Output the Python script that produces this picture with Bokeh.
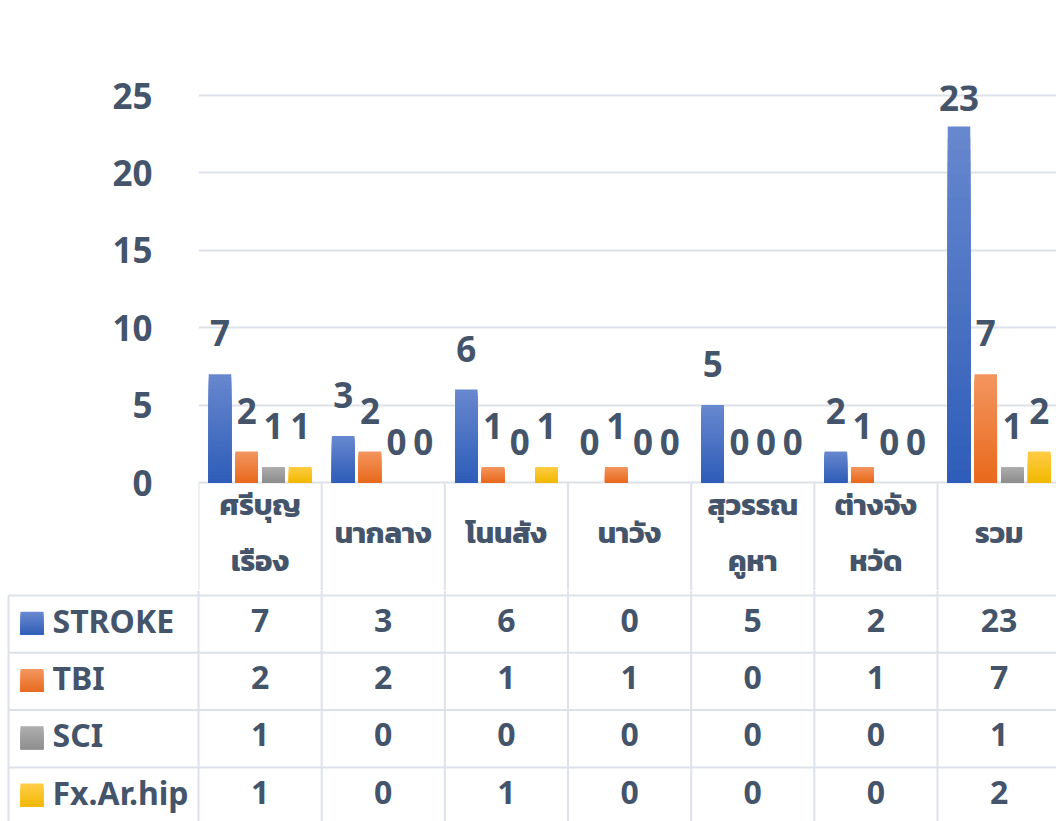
import numpy as np
from bokeh.plotting import figure
from bokeh.layouts import column
from bokeh.models import Range1d, FixedTicker
from bokeh.core.properties import value
from bokeh.embed import file_html
from bokeh.resources import INLINE

# ---- data -------------------------------------------------------------
categories = ["ศรีบุญ\nเรือง", "นากลาง", "โนนสัง", "นาวัง", "สุวรรณ\nคูหา", "ต่างจัง\nหวัด", "รวม"]
series_names = ["STROKE", "TBI", "SCI", "Fx.Ar.hip"]
stroke = [7, 3, 6, 0, 5, 2, 23]
tbi = [2, 2, 1, 1, 0, 1, 7]
sci = [1, 0, 0, 0, 0, 0, 1]
fx_ar_hip = [1, 0, 1, 0, 0, 0, 2]
y_ticks = [0, 5, 10, 15, 20, 25]

series_values = [stroke, tbi, sci, fx_ar_hip]
# (top colour, bottom colour) of each series' vertical gradient
series_colors = [("#6787CE", "#2D5CB8"), ("#F3955F", "#E8681A"),
                 ("#ADADAD", "#8D8D8D"), ("#FFCC45", "#F1B800")]

# ---- layout constants -------------------------------------------------
W, H = 1056, 821
LEFT = 198            # left edge of the plot area / table body
CAT_W = 123.17        # width of one category column in px
BASE_Y = 482          # pixel row of the value axis zero line
TOP_Y = 85            # top of the plot area
CHART_H = 590         # chart figure also holds the category header row
HEADER_MID = 532
HEADER_BOTTOM = 595
ROW_H = 57.3
TABLE_LEFT = 8
PX_PER_UNIT = 15.48
TEXT = "#44546A"
GRID = "#DDE2EA"
FONT = "Noto Sans"
FONT_TH = "Kanit, Noto Sans Thai, Noto Sans Thai UI, Noto Sans"
BAR_W = 0.183
BAR_STEP = 0.217
N_SLICES = 30


def mix(c1, c2, t):
    a = np.array([int(c1[i:i + 2], 16) for i in (1, 3, 5)], float)
    b = np.array([int(c2[i:i + 2], 16) for i in (1, 3, 5)], float)
    c = a + (b - a) * t
    return "#%02x%02x%02x" % tuple(int(round(x)) for x in c)


# ---- chart ------------------------------------------------------------
y_lo = -(CHART_H - BASE_Y) / PX_PER_UNIT
y_hi = (BASE_Y - TOP_Y) / PX_PER_UNIT
p = figure(width=W, height=CHART_H, output_backend="svg", toolbar_location=None,
           x_range=Range1d(0, (W - LEFT) / CAT_W),
           y_range=Range1d(y_lo, y_hi),
           min_border_left=LEFT, min_border_right=0, min_border_top=TOP_Y,
           min_border_bottom=0)
p.frame_align = False
p.outline_line_color = None
p.xaxis.visible = False
p.xgrid.visible = False
p.ygrid.grid_line_color = GRID
p.ygrid.grid_line_width = 2
p.ygrid.ticker = FixedTicker(ticks=y_ticks)
p.yaxis.ticker = FixedTicker(ticks=y_ticks)
p.yaxis.axis_line_color = None
p.yaxis.major_tick_line_color = None
p.yaxis.minor_tick_line_color = None
p.yaxis.major_label_standoff = 40
p.yaxis.major_label_text_font = FONT
p.yaxis.major_label_text_font_size = "35px"
p.yaxis.major_label_text_font_style = "bold"
p.yaxis.major_label_text_color = TEXT

n_cat = len(categories)
cat_centers = np.arange(n_cat) + 0.5
# column rules of the table start at the zero line
bounds = np.arange(n_cat + 1)
p.segment(x0=bounds, x1=bounds, y0=0, y1=y_lo, line_color=GRID, line_width=2)

LABEL_GAP = 41 / PX_PER_UNIT
y_cap = y_hi - 12 / PX_PER_UNIT
for s, (vals, (c_top, c_bot)) in enumerate(zip(series_values, series_colors)):
    vals = np.array(vals, float)
    xs = cat_centers + (s - 1.5) * BAR_STEP
    keep = vals > 0
    # gradient bars: stacked rectangles from the bar base, lighter towards the top
    for k in range(N_SLICES):
        frac = (N_SLICES - k) / N_SLICES
        col = mix(c_bot, c_top, frac)
        p.vbar(x=xs[keep], width=BAR_W, bottom=0, top=vals[keep] * frac,
               fill_color=col, line_color=None)
    # value labels above every bar
    label_y = np.minimum(vals + LABEL_GAP, y_cap)
    p.text(x=xs, y=label_y, text=[str(int(v)) for v in vals],
           text_align="center", text_baseline="alphabetic",
           text_font=value(FONT), text_font_style="bold",
           text_font_size="35px", text_color=TEXT)

# category header row
p.text(x=cat_centers, y=[-(HEADER_MID - BASE_Y) / PX_PER_UNIT] * n_cat,
       text=categories, text_align="center", text_baseline="middle",
       text_font=value(FONT_TH), text_font_style="bold", text_font_size="29px",
       text_color=TEXT, text_line_height=1.3)

# ---- data table -------------------------------------------------------
table_h = H - CHART_H
t = figure(width=W, height=table_h, output_backend="svg", toolbar_location=None,
           x_range=Range1d(0, W), y_range=Range1d(H, CHART_H),
           min_border=0)
t.frame_align = False
t.outline_line_color = None
t.axis.visible = False
t.grid.visible = False

n_rows = len(series_names)
row_tops = HEADER_BOTTOM + ROW_H * np.arange(n_rows)
row_mid = row_tops + ROW_H / 2

# horizontal rules
t.segment(x0=TABLE_LEFT, x1=W, y0=row_tops, y1=row_tops,
          line_color=GRID, line_width=2)
# vertical rules
col_edges = LEFT + CAT_W * bounds
t.segment(x0=col_edges, x1=col_edges, y0=CHART_H, y1=H,
          line_color=GRID, line_width=2)
t.segment(x0=[TABLE_LEFT], x1=[TABLE_LEFT], y0=[HEADER_BOTTOM], y1=[H],
          line_color=GRID, line_width=2)

col_centers = LEFT + CAT_W * cat_centers

# legend keys, series names and values
KEY = 23
for r, (name, (c_top, c_bot)) in enumerate(zip(series_names, series_colors)):
    cy = row_mid[r] - 1
    for k in range(10):
        frac = (10 - k) / 10
        t.quad(left=20, right=20 + KEY, bottom=cy + KEY / 2,
               top=cy + KEY / 2 - KEY * frac, fill_color=mix(c_bot, c_top, frac),
               line_color=None)
    ty = row_mid[r] - 4
    t.text(x=[52], y=[ty], text=[name], text_align="left",
           text_baseline="middle", text_font=value(FONT), text_font_style="bold",
           text_font_size="32px", text_color=TEXT)
    t.text(x=col_centers, y=[ty] * n_cat,
           text=[str(v) for v in series_values[r]], text_align="center",
           text_baseline="middle", text_font=value(FONT), text_font_style="bold",
           text_font_size="32px", text_color=TEXT)

layout = column(p, t, spacing=0)
open("out.html", "w").write(file_html(layout, INLINE))
